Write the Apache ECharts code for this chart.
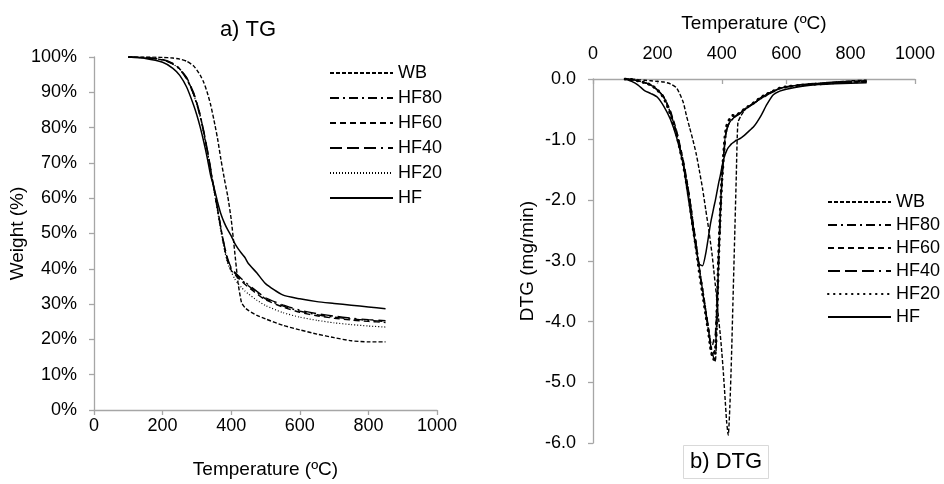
<!DOCTYPE html>
<html><head><meta charset="utf-8">
<script src="https://cdn.jsdelivr.net/npm/echarts@6/dist/echarts.min.js"></script>
<style>html,body{margin:0;padding:0;background:#fff}#c{width:944px;height:484px}</style>
</head><body><div id="c"></div>
<script>
// ---- TG data (Weight %) ----
const tgTemp = [100,150,200,230,250,270,290,300,310,320,330,340,350,360,370,380,390,400,410,420,430,440,450,475,500,550,600,650,700,750,800,850];
const tgWB   = [100,100,99.9,99.7,99.4,98.8,97.5,96.3,94.8,92.8,90,86.5,82,77,71,65.5,60.5,54,45,36,30.5,29,28.2,26.8,25.8,24,22.7,21.5,20.5,19.6,19.3,19.3];
const tgHF80 = [100,99.8,99.2,98,96.5,93.8,89.5,86.5,83,78.5,73.5,68,62.5,57,51.5,46.5,42.5,40,38.8,37.8,36.9,36,35.2,33.3,31.5,29.5,28,27,26.3,25.8,25.4,25.1];
const tgHF60 = [100,99.8,99.2,98.1,96.6,94,89.8,86.8,83.3,78.8,73.8,68.2,62.6,57,51.3,46,42,39.6,38.4,37.4,36.5,35.6,34.8,32.9,31.2,29.2,27.7,26.7,26,25.5,25.1,24.8];
const tgHF40 = [100,99.8,99.3,98.2,96.7,94.2,90,87,83.5,79,74,68.5,62.8,57.2,51.6,46.6,42.8,40.3,39.1,38.1,37.2,36.3,35.5,33.6,31.8,29.8,28.3,27.3,26.6,26,25.6,25.3];
const tgHF20 = [100,99.8,99.2,98,96.5,93.8,89.4,86.4,82.8,78.2,73.2,67.6,62,56.4,50.6,45.4,41.5,39.2,37.2,35.8,34.7,33.7,32.9,31.1,29.6,27.6,26.3,25.4,24.7,24.2,23.8,23.5];
const tgHF   = [100,99.6,98.5,96.8,94.8,91.5,86.5,83.5,80,76,71.5,66.5,63,59,55.5,53,51,49.3,47.3,45.7,44.4,43.2,41.5,38.8,35.8,32.6,31.5,30.7,30.2,29.7,29.2,28.7];

// ---- DTG data (mg/min) ----
const dtgTemp = [100,120,140,160,180,200,220,240,260,280,290,300,310,320,330,340,350,360,365,370,375,380,385,390,395,400,405,410,415,420,425,430,435,440,445,450,460,470,480,500,520,540,560,580,600,650,700,750,800,850];
const dtgWB   = [0,0,-0.01,-0.02,-0.03,-0.04,-0.05,-0.08,-0.15,-0.38,-0.6,-0.8,-1.0,-1.22,-1.5,-1.8,-2.15,-2.5,-2.7,-2.9,-3.15,-3.4,-3.65,-3.95,-4.2,-4.5,-4.85,-5.25,-5.65,-5.87,-5.4,-4.6,-3.6,-2.6,-1.6,-0.72,-0.6,-0.52,-0.47,-0.4,-0.33,-0.27,-0.21,-0.16,-0.13,-0.09,-0.07,-0.05,-0.03,-0.02];
const dtgHF80 = [0,-0.01,-0.03,-0.06,-0.1,-0.18,-0.3,-0.55,-0.9,-1.39,-1.68,-2.0,-2.4,-2.75,-3.15,-3.5,-3.85,-4.2,-4.4,-4.55,-4.5,-4.45,-3.9,-3.0,-2.3,-1.7,-1.33,-1.0,-0.84,-0.76,-0.72,-0.68,-0.65,-0.63,-0.61,-0.59,-0.55,-0.51,-0.47,-0.4,-0.32,-0.25,-0.2,-0.15,-0.13,-0.1,-0.08,-0.06,-0.05,-0.04];
const dtgHF60 = [0,-0.01,-0.03,-0.06,-0.1,-0.18,-0.3,-0.52,-0.86,-1.33,-1.62,-1.95,-2.33,-2.7,-3.1,-3.45,-3.8,-4.15,-4.35,-4.4,-4.3,-4.2,-3.7,-2.9,-2.2,-1.65,-1.3,-0.98,-0.82,-0.75,-0.71,-0.67,-0.64,-0.62,-0.6,-0.58,-0.54,-0.5,-0.46,-0.39,-0.31,-0.25,-0.2,-0.15,-0.13,-0.1,-0.08,-0.06,-0.05,-0.04];
const dtgHF40 = [0,-0.01,-0.03,-0.06,-0.1,-0.18,-0.3,-0.55,-0.9,-1.38,-1.67,-1.98,-2.38,-2.73,-3.12,-3.47,-3.82,-4.18,-4.38,-4.5,-4.6,-4.65,-4.0,-3.1,-2.35,-1.72,-1.35,-1.02,-0.85,-0.77,-0.72,-0.68,-0.65,-0.63,-0.61,-0.59,-0.55,-0.51,-0.47,-0.4,-0.32,-0.25,-0.2,-0.15,-0.13,-0.1,-0.08,-0.06,-0.05,-0.04];
const dtgHF20 = [0,-0.01,-0.03,-0.06,-0.1,-0.18,-0.31,-0.57,-0.92,-1.4,-1.7,-2.02,-2.42,-2.77,-3.17,-3.52,-3.87,-4.22,-4.42,-4.55,-4.62,-4.5,-3.85,-2.95,-2.25,-1.68,-1.3,-0.95,-0.78,-0.7,-0.66,-0.62,-0.6,-0.6,-0.59,-0.58,-0.54,-0.5,-0.46,-0.39,-0.31,-0.25,-0.2,-0.15,-0.13,-0.1,-0.08,-0.06,-0.05,-0.04];
const dtgHF   = [0,-0.04,-0.1,-0.19,-0.24,-0.3,-0.45,-0.66,-0.97,-1.4,-1.75,-2.1,-2.45,-2.8,-3.05,-3.08,-2.88,-2.55,-2.38,-2.25,-2.12,-2.0,-1.86,-1.72,-1.6,-1.46,-1.34,-1.25,-1.18,-1.13,-1.1,-1.07,-1.05,-1.03,-1.01,-1.0,-0.97,-0.93,-0.88,-0.78,-0.62,-0.42,-0.26,-0.2,-0.17,-0.12,-0.09,-0.08,-0.07,-0.06];

const seriesNames = ['WB','HF80','HF60','HF40','HF20','HF'];

const FONT = 'Liberation Sans';
const pair = (xs, ys) => xs.map((x, i) => [x, ys[i]]);

const tgSets = [tgWB, tgHF80, tgHF60, tgHF40, tgHF20, tgHF];
const dtgSets = [dtgWB, dtgHF80, dtgHF60, dtgHF40, dtgHF20, dtgHF];
const styleTG = [
  {type:[4,2], width:1.4},
  {type:[9,4,2,4], width:1.4},
  {type:[6,4], width:1.4},
  {type:[12,5,12,5,12,5,2,5], width:1.4},
  {type:[1,2], width:1.2},
  {type:'solid', width:1.5}
];
const styleDTG = [
  {type:[4,2], width:1.4},
  {type:[9,4,2,4], width:1.4},
  {type:[6,4], width:1.4},
  {type:[12,5,12,5,12,5,2,5], width:1.4},
  {type:[0.5,5.5], width:3, cap:'round'},
  {type:'solid', width:1.5}
];

const series = [];
seriesNames.forEach((n, i) => {
  series.push({name:n, type:'line', xAxisIndex:0, yAxisIndex:0, symbol:'none', smooth:0.2,
    data: pair(tgTemp, tgSets[i]), lineStyle: Object.assign({color:'#000'}, styleTG[i]), itemStyle:{color:'#000'}, animation:false});
});
seriesNames.forEach((n, i) => {
  series.push({name:n + ' (DTG)', type:'line', xAxisIndex:1, yAxisIndex:1, symbol:'none', smooth:0.2,
    data: pair(dtgTemp, dtgSets[i]), lineStyle: Object.assign({color:'#000'}, styleDTG[i]), itemStyle:{color:'#000'}, animation:false});
});

const GRAY = '#a6a6a6';
const lbl = {color:'#000', fontSize:18, fontFamily:FONT};
const nameStyle = {color:'#000', fontSize:19, fontFamily:FONT};
const legendText = {fontSize:18, color:'#000', fontFamily:FONT};

const option = {
  animation:false,
  backgroundColor:'#fff',
  title:[
    {text:'a) TG', left:243, top:14, textAlign:'center', textStyle:{fontSize:22, fontWeight:'normal', color:'#000', fontFamily:FONT}},
    {text:'b) DTG', left:683, top:445, padding:[6,7], borderColor:'#d9d9d9', borderWidth:1,
      textStyle:{fontSize:22, fontWeight:'normal', color:'#000', fontFamily:FONT}}
  ],
  legend:[
    {data:seriesNames, orient:'vertical', left:324, top:59, itemWidth:63, itemHeight:14, itemGap:7,
      itemStyle:{opacity:0, borderWidth:0}, textStyle:legendText, selectedMode:false},
    {data:seriesNames.map(n => n + ' (DTG)'), orient:'vertical', left:822, top:188, itemWidth:63, itemHeight:14, itemGap:5,
      itemStyle:{opacity:0, borderWidth:0}, formatter: n => n.replace(' (DTG)',''),
      textStyle:legendText, selectedMode:false}
  ],
  grid:[
    {left:94, top:57, width:343, height:362},
    {left:593, top:79, width:322, height:364}
  ],
  xAxis:[
    {gridIndex:0, type:'value', min:0, max:1000, interval:200, name:'Temperature (ºC)', nameLocation:'middle', nameGap:50,
      nameTextStyle:nameStyle, axisLine:{lineStyle:{color:GRAY, width:1.3}}, axisTick:{lineStyle:{color:GRAY, width:1.3}, length:5},
      axisLabel:Object.assign({margin:7, formatter:v => String(v)}, lbl), splitLine:{show:false}},
    {gridIndex:1, type:'value', position:'top', min:0, max:1000, interval:200, name:'Temperature (ºC)', nameLocation:'middle', nameGap:46,
      nameTextStyle:nameStyle, axisLine:{onZero:false, lineStyle:{color:GRAY, width:1.3}}, axisTick:{inside:true, lineStyle:{color:GRAY, width:1.3}, length:5},
      axisLabel:Object.assign({margin:16, formatter:v => String(v)}, lbl), splitLine:{show:false}}
  ],
  yAxis:[
    {gridIndex:0, type:'value', min:0, max:100, interval:10, name:'Weight (%)', nameLocation:'middle', nameGap:66,
      nameTextStyle:nameStyle, axisLine:{show:true, lineStyle:{color:GRAY, width:1.3}}, axisTick:{show:true, lineStyle:{color:GRAY, width:1.3}, length:5},
      axisLabel:Object.assign({margin:17, formatter:'{value}%'}, lbl), splitLine:{show:false}},
    {gridIndex:1, type:'value', min:-6, max:0, interval:1, name:'DTG (mg/min)', nameLocation:'middle', nameGap:56,
      nameTextStyle:nameStyle, axisLine:{show:true, lineStyle:{color:GRAY, width:1.3}}, axisTick:{show:true, lineStyle:{color:GRAY, width:1.3}, length:5},
      axisLabel:Object.assign({margin:17, formatter:v => v.toFixed(1)}, lbl), splitLine:{show:false}}
  ],
  series
};
const chart = echarts.init(document.getElementById('c'), null, {renderer:'canvas'});
chart.setOption(option);
</script></body></html>
